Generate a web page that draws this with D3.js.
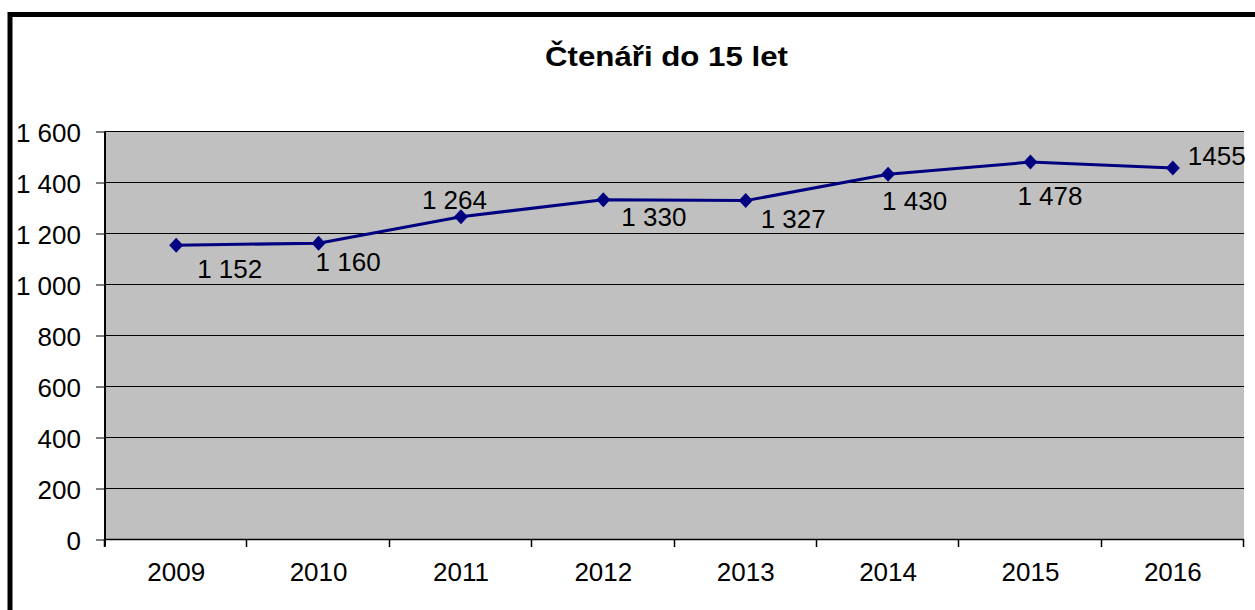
<!DOCTYPE html>
<meta charset="utf-8">
<script src="https://d3js.org/d3.v7.min.js"></script>
<style>
  body { margin: 0; background: #fff; }
  text { font-family: "Liberation Sans", Arial, sans-serif; }
</style>
<div id="chart"></div>
<script>

// data
var years = ["2009", "2010", "2011", "2012", "2013", "2014", "2015", "2016"];
var readers = [1152, 1160, 1264, 1330, 1327, 1430, 1478, 1455];
var valueLabels = ["1 152", "1 160", "1 264", "1 330", "1 327", "1 430", "1 478", "1455"];
var yTicks = [0, 200, 400, 600, 800, 1000, 1200, 1400, 1600];
var yTickLabels = ["0", "200", "400", "600", "800", "1 000", "1 200", "1 400", "1 600"];
var title = "Čtenáři do 15 let";

// where each data label sits relative to its point (they were moved by hand)
var labelNudge = [[21, 33], [-3, 28], [-39, -8], [18, 26], [15, 27], [-6, 36], [-13, 43], [15, -3]];

var W = 1255, H = 610;
var plot = {left: 105, right: 1244, top: 131, bottom: 539};

var svg = d3.select("#chart").append("svg")
    .attr("width", W)
    .attr("height", H);

// frame (only top and left edges visible)
svg.append("path")
    .attr("d", "M10,610 L10,14.5 L1255,14.5")
    .attr("fill", "none")
    .attr("stroke", "#000")
    .attr("stroke-width", 5);

svg.append("text")
    .attr("x", 545)
    .attr("y", 66)
    .attr("font-size", 28)
    .attr("font-weight", "bold")
    .attr("textLength", 243)
    .attr("lengthAdjust", "spacingAndGlyphs")
    .text(title);

var x = d3.scaleBand()
    .domain(years)
    .range([plot.left, plot.right]);

var y = d3.scaleLinear()
    .domain([0, 1600])
    .range([plot.bottom, plot.top]);

// plot area
svg.append("rect")
    .attr("x", plot.left)
    .attr("y", plot.top)
    .attr("width", plot.right - plot.left)
    .attr("height", plot.bottom - plot.top)
    .attr("fill", "#c0c0c0");

// gridlines
svg.selectAll(".grid")
  .data(yTicks)
  .enter().append("line")
    .attr("class", "grid")
    .attr("x1", plot.left)
    .attr("x2", plot.right)
    .attr("y1", function(d) { return Math.round(y(d)) + 0.5; })
    .attr("y2", function(d) { return Math.round(y(d)) + 0.5; })
    .attr("stroke", "#000")
    .attr("stroke-width", 1);

// y axis
var yAxis = svg.append("g")
    .attr("transform", "translate(" + (plot.left) + ",0.5)")
    .call(d3.axisLeft(y)
      .tickValues(yTicks)
      .tickSize(9)
      .tickPadding(15)
      .tickFormat(function(d, i) { return yTickLabels[i]; }));
yAxis.select(".domain")
    .attr("d", "M0," + y(1600) + "V" + (plot.bottom + 7))
    .attr("stroke-width", 2);
yAxis.selectAll("text")
    .attr("font-size", 26)
    .attr("font-family", "'Liberation Sans', Arial, sans-serif")
    .attr("fill", "#000")
    .attr("dy", 9.5);

// x axis
var xAxis = svg.append("g")
    .attr("transform", "translate(0," + (plot.bottom + 0.5) + ")")
    .call(d3.axisBottom(x).tickSize(0).tickPadding(32));
xAxis.select(".domain")
    .attr("d", "M" + plot.left + ",0H" + plot.right)
    .attr("stroke-width", 1.5);
xAxis.selectAll("text")
    .attr("font-size", 26)
    .attr("font-family", "'Liberation Sans', Arial, sans-serif")
    .attr("fill", "#000")
    .attr("dy", 9);

var bounds = years.map(function(d) { return x(d); }).concat([x.range()[1]]);
svg.selectAll(".xtick")
  .data(bounds)
  .enter().append("line")
    .attr("class", "xtick")
    .attr("x1", function(d) { return Math.round(d) - 0.5; })
    .attr("x2", function(d) { return Math.round(d) - 0.5; })
    .attr("y1", plot.bottom)
    .attr("y2", plot.bottom + 8)
    .attr("stroke", "#000")
    .attr("stroke-width", 1.5);

// series
var pts = years.map(function(d, i) {
  return {year: d, value: readers[i], label: valueLabels[i], nudge: labelNudge[i]};
});
var cx = function(d) { return x(d.year) + x.bandwidth() / 2; };
var cy = function(d) { return y(d.value); };

svg.append("path")
    .datum(pts)
    .attr("fill", "none")
    .attr("stroke", "#000080")
    .attr("stroke-width", 3)
    .attr("d", d3.line().x(cx).y(cy));

svg.selectAll(".marker")
  .data(pts)
  .enter().append("path")
    .attr("class", "marker")
    .attr("transform", function(d) { return "translate(" + cx(d) + "," + cy(d) + ")"; })
    .attr("d", "M0,-7.5L7,0L0,7.5L-7,0Z")
    .attr("fill", "#000080");

svg.selectAll(".vlabel")
  .data(pts)
  .enter().append("text")
    .attr("class", "vlabel")
    .attr("x", function(d) { return cx(d) + d.nudge[0]; })
    .attr("y", function(d) { return cy(d) + d.nudge[1]; })
    .attr("font-size", 26)
    .attr("fill", "#000")
    .text(function(d) { return d.label; });

</script>
